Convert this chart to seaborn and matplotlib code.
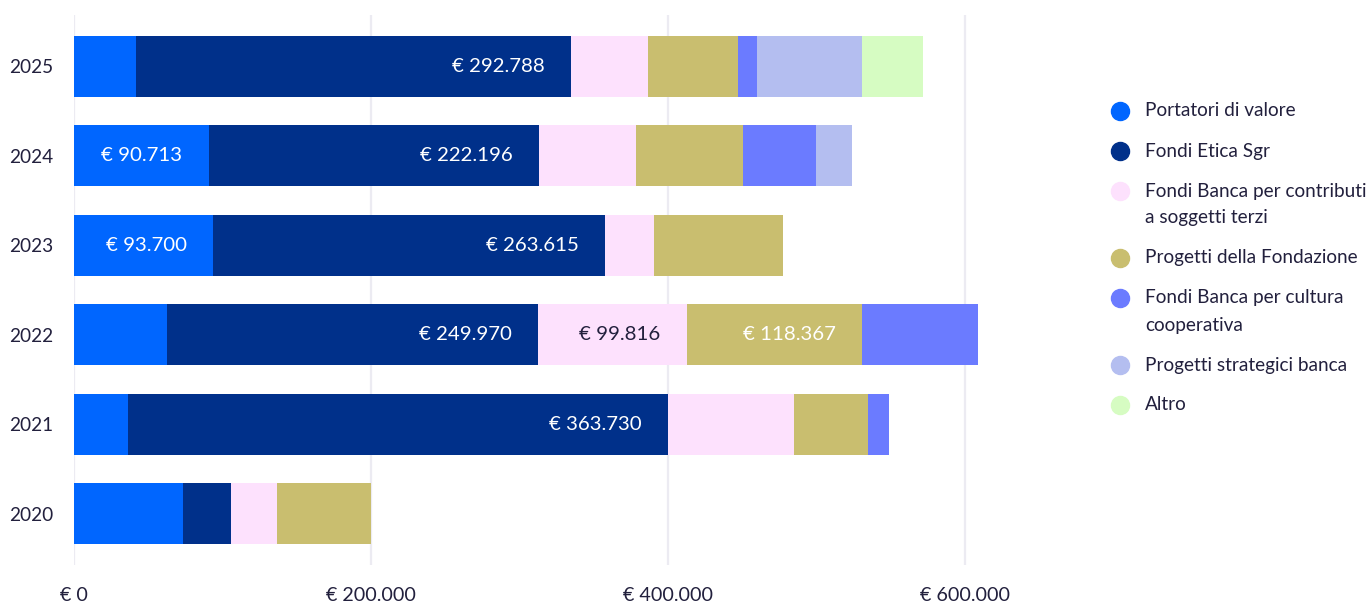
import numpy as np
import matplotlib
matplotlib.use("Agg")
import matplotlib.pyplot as plt
from matplotlib.lines import Line2D
from matplotlib.ticker import FuncFormatter
import seaborn as sns

# dati (euro)
anni = ["2025", "2024", "2023", "2022", "2021", "2020"]
portatori = [41750, 90713, 93700, 62600, 36400, 73400]
etica_sgr = [292788, 222196, 263615, 249970, 363730, 32300]
contributi = [51850, 65300, 33000, 99816, 84850, 31000]
fondazione = [60600, 72050, 86900, 118367, 49830, 63300]
cultura = [12800, 49160, 0, 78100, 14140, 0]
strategici = [70700, 24240, 0, 0, 0, 0]
altro = [41100, 0, 0, 0, 0, 0]

serie = ["Portatori di valore", "Fondi Etica Sgr",
         "Fondi Banca per contributi\na soggetti terzi", "Progetti della Fondazione",
         "Fondi Banca per cultura\ncooperativa", "Progetti strategici banca", "Altro"]
valori = [portatori, etica_sgr, contributi, fondazione, cultura, strategici, altro]
colori = ["#0066ff", "#00308a", "#fde1fd", "#c9be6f", "#6b7bff", "#b4bef0", "#d6fcc2"]
testo = "#22203d"

sns.set_theme(style="white")
plt.rcParams["font.family"] = ["Lato", "DejaVu Sans"]

fig = plt.figure(figsize=(13.69, 6.05), dpi=100)
ax = fig.add_axes([74 / 1369, 1 - 565 / 605, 921 / 1369, 550 / 605])

cum = np.cumsum(np.array(valori), axis=0)
# barre sovrapposte: dal totale cumulato al primo segmento
for i in range(len(serie) - 1, -1, -1):
    sns.barplot(x=cum[i], y=anni, orient="h", color=colori[i], saturation=1,
                width=0.68, linewidth=0, ax=ax)

# etichette sui segmenti grandi
for i, vals in enumerate(valori):
    for j, v in enumerate(vals):
        if v >= 90000:
            col = testo if i == 2 else "white"
            ax.annotate("€ " + f"{v:,}".replace(",", "."), xy=(cum[i][j], j),
                        xytext=(-19, 0), textcoords="offset points",
                        ha="right", va="center", color=col, fontsize=14.7)

ax.set_xlim(0, 620000)
ax.set_ylim(5.57, -0.57)
ax.set_xticks([0, 200000, 400000, 600000])
ax.xaxis.set_major_formatter(FuncFormatter(lambda x, p: "€ " + f"{int(x):,}".replace(",", ".")))
ax.grid(axis="x", color="#ecebf2", linewidth=1.6)
ax.grid(axis="y", visible=False)
ax.set_axisbelow(True)
for s in ax.spines.values():
    s.set_visible(False)
ax.set_xlabel("")
ax.set_ylabel("")
ax.tick_params(axis="x", length=0, pad=16, labelsize=14.2, labelcolor=testo)
ax.tick_params(axis="y", length=0, pad=15, labelsize=13.7, labelcolor=testo)

# legenda a destra
y = 111
for lab, col in zip(serie, colori):
    righe = lab.split("\n")
    fig.add_artist(Line2D([1120 / 1369], [1 - y / 605], transform=fig.transFigure,
                          marker="o", markersize=13, color=col, linestyle="none"))
    for k, r in enumerate(righe):
        fig.text(1145 / 1369, 1 - (y + k * 27) / 605, r, ha="left", va="center",
                 fontsize=13.7, color=testo)
    y += 40 + (len(righe) - 1) * 27

fig.savefig("out.png", dpi=100)
